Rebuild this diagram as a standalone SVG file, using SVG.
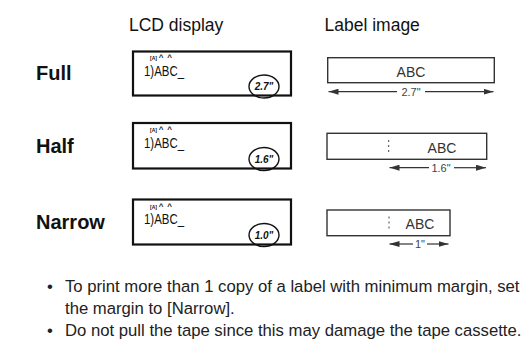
<svg xmlns="http://www.w3.org/2000/svg" width="526" height="341" viewBox="0 0 526 341">
<defs>
<marker id="ah" viewBox="0 0 10 6" refX="10" refY="3" markerWidth="10" markerHeight="6" markerUnits="userSpaceOnUse" orient="auto-start-reverse">
<path d="M0,0 L10,3 L0,6 z" fill="#333"/>
</marker>
<style>
.hdr{font-family:"Liberation Sans",Arial,sans-serif;font-size:17.5px;fill:#111}
.row{font-family:"Liberation Sans",Arial,sans-serif;font-size:20px;font-weight:bold;fill:#111}
.lcd{fill:#fff;stroke:#111;stroke-width:2.2}
.lcdt{font-family:"Liberation Sans",Arial,sans-serif;font-size:15px;fill:#111}
.ind{font-family:"Liberation Sans",Arial,sans-serif;font-size:6px;font-weight:bold;fill:#111}
.car{font-family:"Liberation Sans",Arial,sans-serif;font-size:8px;font-weight:bold;fill:#111;text-anchor:middle}
.circ{fill:none;stroke:#111;stroke-width:1.4}
.ct{font-family:"Liberation Sans",Arial,sans-serif;font-size:10px;font-style:italic;font-weight:bold;fill:#111;text-anchor:middle}
.lab{fill:#fff;stroke:#333;stroke-width:1.4}
.labt{font-family:"Liberation Sans",Arial,sans-serif;font-size:14px;fill:#333;text-anchor:middle}
.dim{font-family:"Liberation Sans",Arial,sans-serif;font-size:11px;fill:#444;text-anchor:middle}
.dl{stroke:#333;stroke-width:1.2;fill:none}
.dash{stroke:#444;stroke-width:1;stroke-dasharray:2 3}
.note{font-family:"Liberation Sans",Arial,sans-serif;font-size:16.7px;fill:#222}
</style>
</defs>
<rect width="526" height="341" fill="#fff"/>

<g id="headers">
<text class="hdr" x="129" y="30.5">LCD display</text>
<text class="hdr" x="324.5" y="30.5">Label image</text>
</g>

<g id="row-full">
<text class="row" x="36" y="80">Full</text>
</g>
<g id="row-half">
<text class="row" x="36" y="153">Half</text>
</g>
<g id="row-narrow">
<text class="row" x="36" y="229">Narrow</text>
</g>

<g id="lcd-full">
<rect class="lcd" x="133" y="51.5" width="158" height="44"/>
<text class="ind" x="150" y="60" textLength="7" lengthAdjust="spacingAndGlyphs">[A]</text>
<text class="car" x="161" y="60">^</text>
<text class="car" x="169.5" y="60">^</text>
<text class="lcdt" x="144" y="75.5" textLength="40" lengthAdjust="spacingAndGlyphs">1)ABC_</text>
<ellipse class="circ" cx="264" cy="86.5" rx="15" ry="11.5"/>
<text class="ct" x="264" y="90">2.7"</text>
</g>

<g id="lcd-half">
<rect class="lcd" x="133" y="123" width="158" height="45.5"/>
<text class="ind" x="150" y="132" textLength="7" lengthAdjust="spacingAndGlyphs">[A]</text>
<text class="car" x="161" y="132">^</text>
<text class="car" x="169.5" y="132">^</text>
<text class="lcdt" x="144" y="147.5" textLength="40" lengthAdjust="spacingAndGlyphs">1)ABC_</text>
<ellipse class="circ" cx="264" cy="159" rx="15" ry="11.5"/>
<text class="ct" x="264" y="162.5">1.6"</text>
</g>

<g id="lcd-narrow">
<rect class="lcd" x="133" y="199.5" width="158" height="45"/>
<text class="ind" x="150" y="208.5" textLength="7" lengthAdjust="spacingAndGlyphs">[A]</text>
<text class="car" x="161" y="208.5">^</text>
<text class="car" x="169.5" y="208.5">^</text>
<text class="lcdt" x="144" y="224" textLength="40" lengthAdjust="spacingAndGlyphs">1)ABC_</text>
<ellipse class="circ" cx="264" cy="235" rx="15" ry="11.5"/>
<text class="ct" x="264" y="238.5">1.0"</text>
</g>

<g id="label-full">
<rect class="lab" x="327.7" y="57.7" width="166.6" height="25"/>
<text class="labt" x="411" y="76.5">ABC</text>
<text class="dim" x="411" y="95.5">2.7"</text>
</g>

<g id="label-half">
<rect class="lab" x="327" y="133.3" width="159.7" height="26"/>
<line class="dash" x1="388.7" y1="140" x2="388.7" y2="154"/>
<text class="labt" x="442" y="152.7">ABC</text>
<text class="dim" x="441" y="171.5">1.6"</text>
</g>

<g id="label-narrow">
<rect class="lab" x="327" y="210" width="123" height="25.7"/>
<line class="dash" x1="389" y1="216.5" x2="389" y2="230.5"/>
<text class="labt" x="420" y="228.5">ABC</text>
<text class="dim" x="420" y="248">1"</text>
</g>

<g id="connectors">
<line class="dl" x1="397" y1="91.7" x2="328.5" y2="91.7" marker-end="url(#ah)"/>
<line class="dl" x1="425" y1="91.7" x2="493.5" y2="91.7" marker-end="url(#ah)"/>
<line class="dl" x1="429" y1="167.7" x2="389.5" y2="167.7" marker-end="url(#ah)"/>
<line class="dl" x1="454" y1="167.7" x2="486" y2="167.7" marker-end="url(#ah)"/>
<line class="dl" x1="413" y1="244" x2="389.5" y2="244" marker-end="url(#ah)"/>
<line class="dl" x1="427" y1="244" x2="448.5" y2="244" marker-end="url(#ah)"/>
</g>

<g id="notes">
<text class="note" x="47" y="291.5">•</text>
<text class="note" x="65" y="291.5">To print more than 1 copy of a label with minimum margin, set</text>
<text class="note" x="65" y="313.5">the margin to [Narrow].</text>
<text class="note" x="47" y="335.5">•</text>
<text class="note" x="65" y="335.5">Do not pull the tape since this may damage the tape cassette.</text>
</g>
</svg>
